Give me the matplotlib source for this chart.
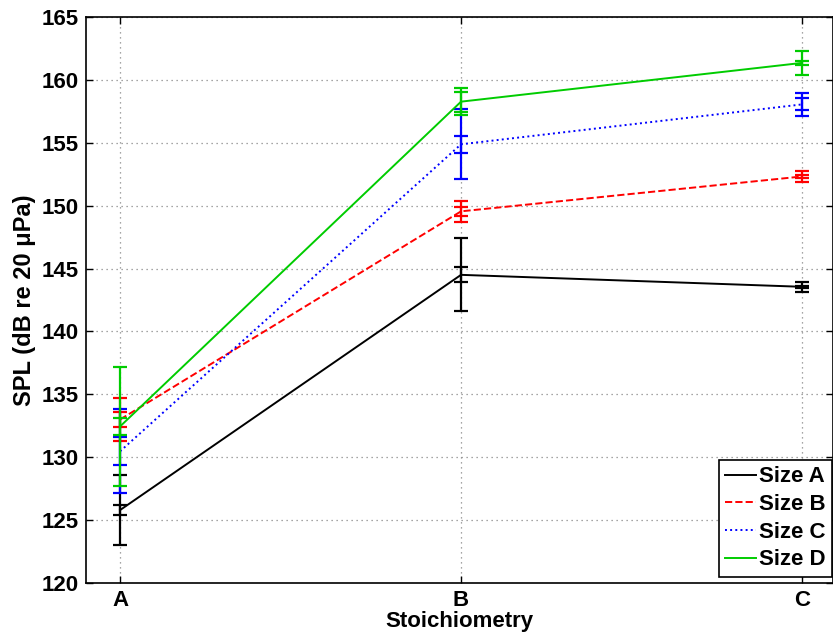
import matplotlib
matplotlib.use("Agg")
import matplotlib.pyplot as plt

categories = ["A", "B", "C"]
series_names = ["Size A", "Size B", "Size C", "Size D"]

mean_a = [125.8, 144.5, 143.55]
outer_a = [2.75, 2.9, 0.41]
inner_a = [0.4, 0.6, 0.1]

mean_b = [133.0, 149.55, 152.32]
outer_b = [1.71, 0.86, 0.46]
inner_b = [0.56, 0.37, 0.12]

mean_c = [130.47, 154.88, 158.05]
outer_c = [3.35, 2.77, 0.93]
inner_c = [1.12, 0.67, 0.48]

mean_d = [132.45, 158.27, 161.35]
outer_d = [4.75, 1.06, 0.98]
inner_d = [0.65, 0.79, 0.15]

yticks = [120, 125, 130, 135, 140, 145, 150, 155, 160, 165]

plt.rcParams['font.family'] = ['Liberation Sans', 'DejaVu Sans']
plt.rcParams['font.weight'] = 'bold'

FS = 16

fig = plt.figure(figsize=(8.33, 6.4), dpi=100)
ax = fig.add_axes([86 / 833, 57 / 640, 747 / 833, 566 / 640])

x = [1, 2, 3]
series = [
    (mean_a, outer_a, inner_a, "black", "-"),
    (mean_b, outer_b, inner_b, "#ff0000", "--"),
    (mean_c, outer_c, inner_c, "#0000ff", ":"),
    (mean_d, outer_d, inner_d, "#00cc00", "-"),
]

handles = []
for (m, o, i, col, ls), name in zip(series, series_names):
    ax.errorbar(x, m, yerr=o, fmt="none", ecolor=col, elinewidth=1.6,
                capsize=5.3, capthick=1.6)
    ax.errorbar(x, m, yerr=i, fmt="none", ecolor=col, elinewidth=1.6,
                capsize=5.3, capthick=1.6)
    h, = ax.plot(x, m, color=col, linestyle=ls, linewidth=1.4, label=name)
    handles.append(h)

ax.set_xlim(0.9, 3.091)
ax.set_ylim(120, 165)
ax.set_xticks(x)
ax.set_xticklabels(categories)
ax.set_yticks(yticks)
ax.grid(True, linestyle=(0, (1, 3)), color="#888888", linewidth=0.9)
ax.tick_params(direction="in", length=5, width=1, top=True, right=True,
               labelsize=FS, pad=5)
for lbl in ax.get_xticklabels() + ax.get_yticklabels():
    lbl.set_fontweight("bold")
for s in ax.spines.values():
    s.set_linewidth(1.2)

ax.set_xlabel("Stoichiometry", fontsize=FS, fontweight="bold", labelpad=0)
ax.set_ylabel("SPL (dB re 20 \u03bcPa)", fontsize=FS + 1, fontweight="bold", labelpad=4)

leg = ax.legend(handles=handles, loc="lower right",
                bbox_to_anchor=(832 / 833, (640 - 577) / 640),
                bbox_transform=fig.transFigure,
                fontsize=FS, frameon=True, fancybox=False, framealpha=1,
                edgecolor="black", handlelength=1.4, handletextpad=0.1,
                borderpad=0.3, labelspacing=0.3, borderaxespad=0)
leg.get_frame().set_linewidth(1.2)
for t in leg.get_texts():
    t.set_fontweight("bold")

fig.savefig("out.png", dpi=100)
